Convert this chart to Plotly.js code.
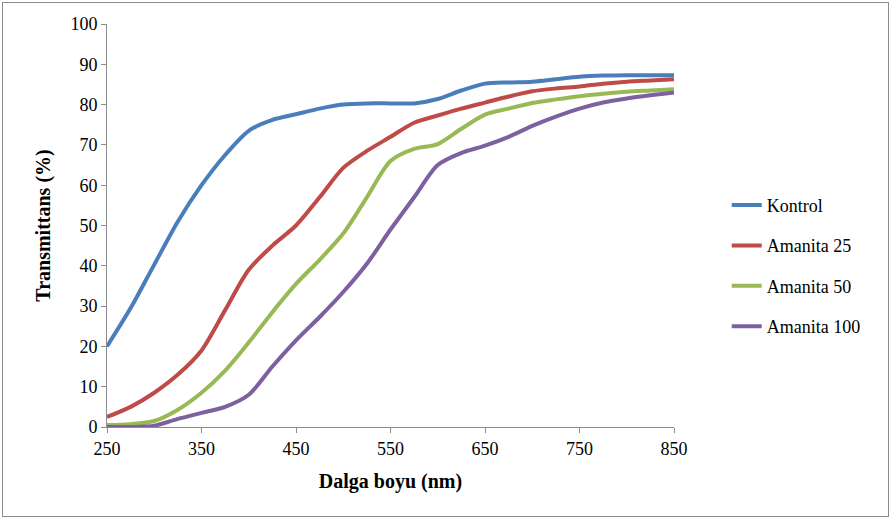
<!DOCTYPE html>
<html>
<head>
<meta charset="utf-8">
<script src="https://cdn.plot.ly/plotly-3.0.1.min.js"></script>
<style>
html,body{margin:0;padding:0;background:#fff;}
#frame{position:absolute;left:2px;top:2px;width:885px;height:513px;border:1px solid #8c8c8c;}
#chart{position:absolute;left:0;top:0;width:891px;height:520px;}
</style>
</head>
<body>
<div id="frame"></div>
<div id="chart"></div>
<script>
var wavelength = [250,275,300,325,350,375,400,425,450,475,500,525,550,575,600,625,650,675,700,725,750,775,800,825,850];
var kontrol    = [20,29.5,40.3,51,60,67.5,73.5,76.2,77.6,79,80,80.3,80.3,80.3,81.4,83.5,85.2,85.5,85.7,86.3,86.9,87.2,87.3,87.3,87.3];
var amanita25  = [2.5,5,8.5,13,19,29,39,45,50,57,64.3,68.5,72,75.5,77.3,79,80.5,82,83.3,84,84.5,85.2,85.7,86,86.3];
var amanita50  = [0.5,0.7,1.5,4.3,8.5,14,21,28.5,35.5,41.5,48,57,66,69,70.2,74,77.5,79,80.4,81.3,82.1,82.7,83.2,83.5,83.8];
var amanita100 = [0,0,0.3,2,3.5,5,8,15,21.5,27.3,33.5,40.5,49,57,65,68,69.8,72,74.7,77,79,80.5,81.5,82.3,83];
var seriesNames = ["Kontrol","Amanita 25","Amanita 50","Amanita 100"];
var seriesValues = [kontrol, amanita25, amanita50, amanita100];
var seriesColors = ["#4a7ebb","#be4b48","#98b954","#7d60a0"];
var xTicks = [250,350,450,550,650,750,850];

var traces = seriesNames.map(function(n,i){
  return {x: wavelength, y: seriesValues[i], name: n, type:'scatter', mode:'lines',
    line:{color:seriesColors[i], width:4, shape:'spline', smoothing:0.8}, legendgroup:'g'+i};
});
var font = "Liberation Serif";
var layout = {
  width:891, height:520,
  margin:{l:107,r:217,t:24,b:93},
  paper_bgcolor:'rgba(0,0,0,0)', plot_bgcolor:'rgba(0,0,0,0)',
  font:{family:font, size:18, color:'#000'},
  showlegend:true,
  legend:{x:1.093, y:0.40, xanchor:'left', yanchor:'middle', font:{family:font,size:18,color:'#000'},
    tracegroupgap:14, itemwidth:30},
  xaxis:{range:[250,850], tickvals:xTicks, ticktext:xTicks.map(String), showgrid:false, zeroline:false,
    showline:true, linecolor:'#8c8c8c', linewidth:1, ticks:'outside', ticklen:5, tickcolor:'#8c8c8c',
    tickfont:{family:font,size:18}, title:{text:'<b>Dalga boyu (nm)</b>', font:{family:font,size:20}, standoff:16}},
  yaxis:{range:[0,100], dtick:10, showgrid:false, zeroline:false,
    showline:true, linecolor:'#8c8c8c', linewidth:1, ticks:'outside', ticklen:5, tickcolor:'#8c8c8c',
    tickfont:{family:font,size:18}, title:{text:'<b>Transmittans (%)</b>', font:{family:font,size:20}, standoff:14}}
};
Plotly.newPlot('chart', traces, layout, {displayModeBar:false, staticPlot:true});
</script>
</body>
</html>
